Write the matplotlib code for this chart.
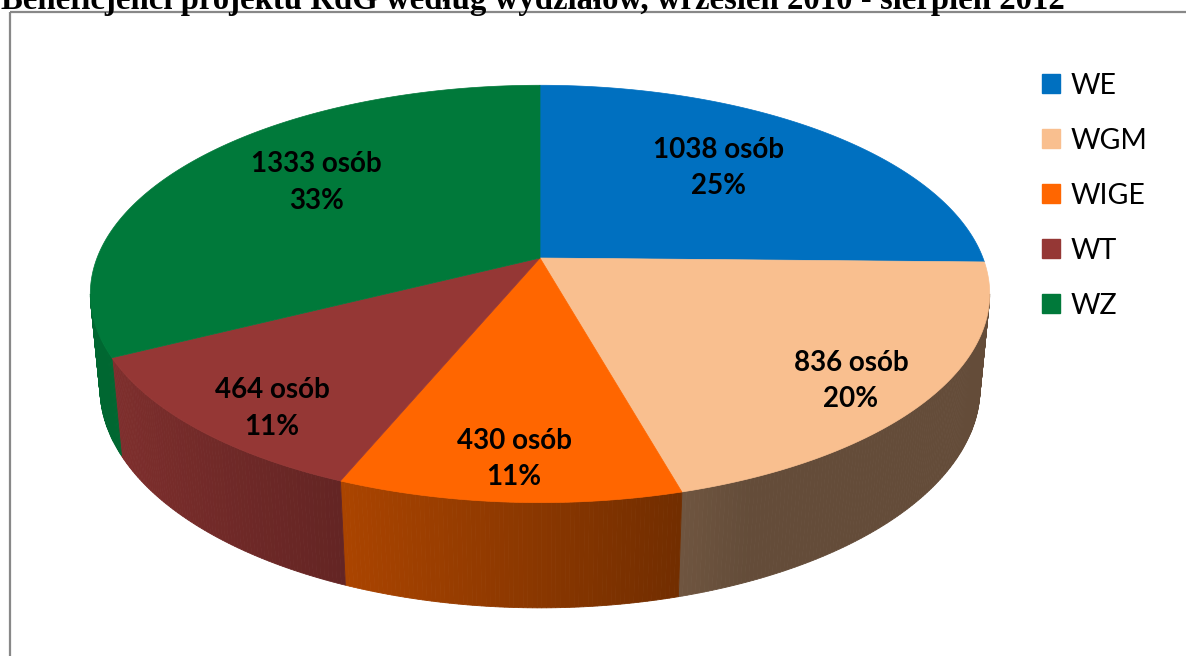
import numpy as np
import matplotlib
matplotlib.use('Agg')
import matplotlib.pyplot as plt
from matplotlib.patches import Polygon, Patch, Rectangle
from matplotlib.colors import to_rgb

# data
categories = ['WE', 'WGM', 'WIGE', 'WT', 'WZ']
people = [1038, 836, 430, 464, 1333]
percents = [25, 20, 11, 11, 33]
colors = ['#0070C0', '#F9BF8F', '#FF6600', '#953735', '#00793A']
title = 'Beneficjenci projektu RdG według wydziałów, wrzesień 2010 - sierpień 2012'

# fake-3d camera (pixel space)
CX, CY = 540, 258
ALPHA = np.radians(27.2)
DIST = 5.165
FOCAL = 2288
THICK = 0.24
label_r = [0.65, 0.84, 0.85, 0.85, 0.67]
label_shift = [-3.5, 3.0, 0.0, -3.5, 5.0]


def project(theta, r=1.0, h=0.0):
    # theta in degrees, 0 = far side, clockwise seen from above
    t = np.radians(theta)
    u = r * np.sin(t)
    v = -r * np.cos(t)
    depth = DIST - (v * np.cos(ALPHA) + h * np.sin(ALPHA))
    yup = -v * np.sin(ALPHA) + h * np.cos(ALPHA)
    return CX + FOCAL * u / depth, CY - FOCAL * yup / depth


def shade(theta):
    u = np.sin(np.radians(theta))
    return 0.40 + 0.45 * np.clip((0.4 - u) / 1.3, 0, 1)


fig = plt.figure(figsize=(11.86, 6.56), dpi=100)
ax = fig.add_axes([0, 0, 1, 1])
ax.set_xlim(0, 1186)
ax.set_ylim(656, 0)
ax.axis('off')

# chart frame, runs off the right and bottom edges
ax.add_patch(Rectangle((10, 12), 1200, 700, fill=False, edgecolor='#888888', linewidth=1.6))

fig.text(1 / 1186, 1 - 9 / 656, title, fontsize=23.6, fontweight='bold',
         family='Liberation Serif', ha='left', va='baseline')

bounds = np.concatenate([[0], np.cumsum(people)]) / sum(people) * 360
# silhouette of the cylinder wall
sil = np.degrees(np.arcsin(np.cos(ALPHA) / DIST))
wall_lo, wall_hi = 90 + sil, 270 - sil

# outer walls, front part only, shaded in thin strips
for i in range(len(people)):
    a0 = max(bounds[i], wall_lo)
    a1 = min(bounds[i + 1], wall_hi)
    if a1 <= a0:
        continue
    steps = np.linspace(a0, a1, max(int((a1 - a0) / 0.5), 2))
    base = np.array(to_rgb(colors[i]))
    for s0, s1 in zip(steps[:-1], steps[1:]):
        tx0, ty0 = project(s0)
        tx1, ty1 = project(s1)
        bx1, by1 = project(s1, h=-THICK)
        bx0, by0 = project(s0, h=-THICK)
        col = base * shade((s0 + s1) / 2)
        ax.add_patch(Polygon([(tx0, ty0), (tx1, ty1), (bx1, by1), (bx0, by0)],
                             closed=True, facecolor=col, edgecolor=col, linewidth=0.6))

# top faces
for i in range(len(people)):
    arc = np.linspace(bounds[i], bounds[i + 1], 200)
    xs, ys = project(arc)
    pts = [(CX, CY)] + list(zip(xs, ys))
    ax.add_patch(Polygon(pts, closed=True, facecolor=colors[i], edgecolor=colors[i], linewidth=0.5))

# data labels
for i in range(len(people)):
    mid = (bounds[i] + bounds[i + 1]) / 2 + label_shift[i]
    lx, ly = project(mid, r=label_r[i])
    ax.text(lx, ly, f'{people[i]} osób\n{percents[i]}%', ha='center', va='center',
            fontsize=20, fontweight='bold', family='Lato', color='black', linespacing=1.5)

handles = [Patch(facecolor=c, edgecolor=c) for c in colors]
fig.legend(handles, categories, loc='upper left', bbox_to_anchor=(1016 / 1186, 1 - 47 / 656),
           frameon=False, handlelength=0.65, handleheight=0.65,
           handletextpad=0.35, labelspacing=1.02, prop={'family': 'Lato', 'size': 20.5})

fig.savefig('out.png', dpi=100)
